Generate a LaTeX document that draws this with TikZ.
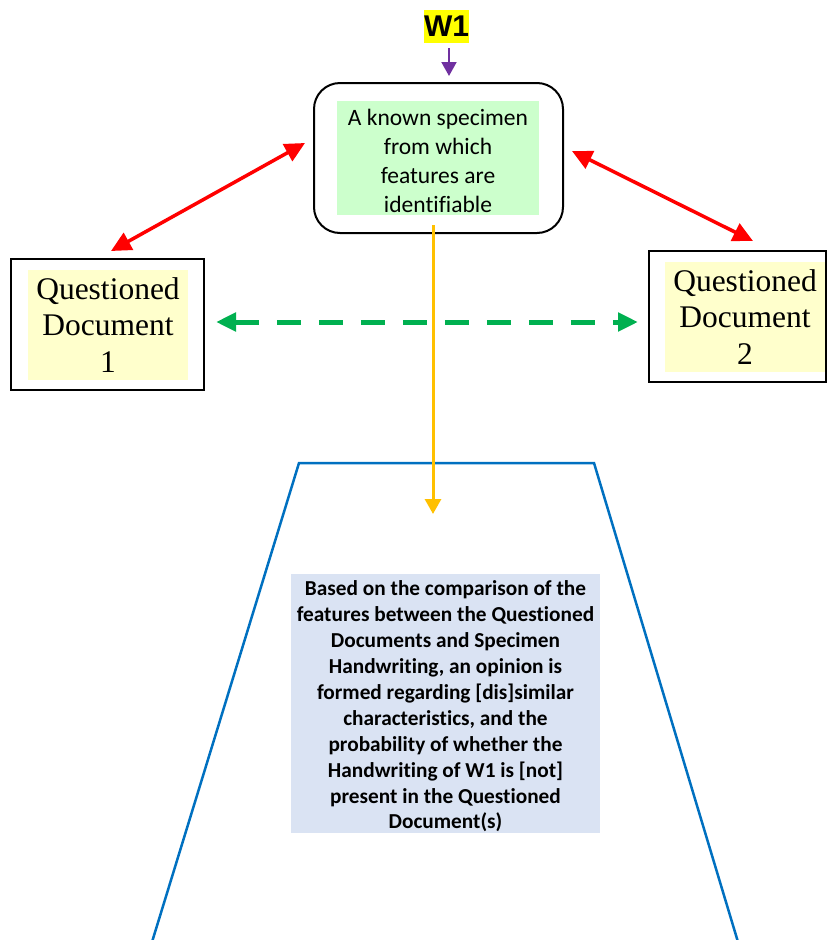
\documentclass[tikz,border=0pt]{standalone}
\usepackage{fontspec}
\setmainfont[Ligatures=NoCommon]{Carlito}
\newfontfamily\timesf{Liberation Serif}
\newfontfamily\arialf{Liberation Sans}
\usetikzlibrary{arrows.meta}
\definecolor{specgreen}{RGB}{204,255,204}
\definecolor{qdyellow}{RGB}{255,255,204}
\definecolor{opinionfill}{RGB}{218,227,243}
\definecolor{hiyellow}{RGB}{255,255,0}
\definecolor{wpurple}{RGB}{112,48,160}
\definecolor{korange}{RGB}{255,192,0}
\definecolor{dgreen}{RGB}{0,176,80}
\definecolor{tblue}{RGB}{0,112,192}
\tikzset{
  qdtext/.style={fill=qdyellow, inner sep=0pt, minimum width=160pt, minimum height=110pt, align=center,
    font=\timesf\fontsize{31.5}{36.5}\selectfont},
  redarrow/.style={draw=red, line width=3.5pt, {Triangle[length=20pt,width=19pt]}-{Triangle[length=20pt,width=19pt]}},
  greenarrow/.style={draw=dgreen, line width=5pt, dash pattern=on 24pt off 18pt, {Triangle[length=20pt,width=18pt]}-{Triangle[length=20pt,width=18pt]}},
}
\begin{document}
\begin{tikzpicture}[x=1pt,y=-1pt]
\useasboundingbox (0,0) rectangle (830,940);
% trapezoid
\draw[tblue, line width=2.5pt, line join=miter] (152,942) -- (299,463) -- (594,463) -- (738,942);
% W1
\node[fill=hiyellow, inner sep=0pt, minimum width=45pt, minimum height=33pt, font=\arialf\bfseries\fontsize{30}{32}\selectfont] (w1) at (446.5,26.5) {W1};
% specimen box
\node[draw=black, line width=2pt, rounded corners=26pt, minimum width=249pt, minimum height=150pt] (spec) at (438.5,158) {};
\node[fill=specgreen, inner sep=0pt, minimum width=202pt, minimum height=114pt] (specfill) at (438,158) {};
\node[inner sep=0pt, align=center, font=\fontsize{23.5}{29}\selectfont] (spectext) at (438,160.5) {A known specimen\\from which\\features are\\identifiable};
% QD1
\node[draw=black, line width=2pt, minimum width=193pt, minimum height=131pt] (qd1) at (107.5,324.5) {};
\node[qdtext] (qd1t) at (108,325) {Questioned\\Document\\1};
% QD2
\node[draw=black, line width=2pt, minimum width=177pt, minimum height=131pt] (qd2) at (737.5,316.5) {};
\node[qdtext] (qd2t) at (745,317) {Questioned\\Document\\2};
% opinion box
\node[fill=opinionfill, inner sep=0pt, minimum width=309pt, minimum height=259pt] (op) at (445.5,703.5) {};
\node[inner sep=0pt, align=center, font=\bfseries\fontsize{21.3}{25.9}\selectfont] (optext) at (445.5,706.5) {Based on the comparison of the\\features between the Questioned\\Documents and Specimen\\Handwriting, an opinion is\\formed regarding [dis]similar\\characteristics, and the\\probability of whether the\\Handwriting of W1 is [not]\\present in the Questioned\\Document(s)};
% connectors
\coordinate (w1end) at (449,76);
\coordinate (w1start) at (449,48);
\draw[wpurple, line width=2pt, -{Triangle[length=14pt,width=15pt]}] (w1start) -- (w1end);
\coordinate (lA) at (305,143);
\coordinate (lB) at (111,251);
\draw[redarrow] (lB) -- (lA);
\coordinate (rA) at (572,151);
\coordinate (rB) at (753,241);
\draw[redarrow] (rA) -- (rB);
\coordinate (gA) at (216,322);
\coordinate (gB) at (638,322);
\draw[greenarrow] (gA) -- (gB);
\coordinate (oA) at (433,225);
\coordinate (oB) at (433,514);
\draw[korange, line width=3pt, -{Triangle[length=15pt,width=16pt]}] (oA) -- (oB);
\end{tikzpicture}
\end{document}
